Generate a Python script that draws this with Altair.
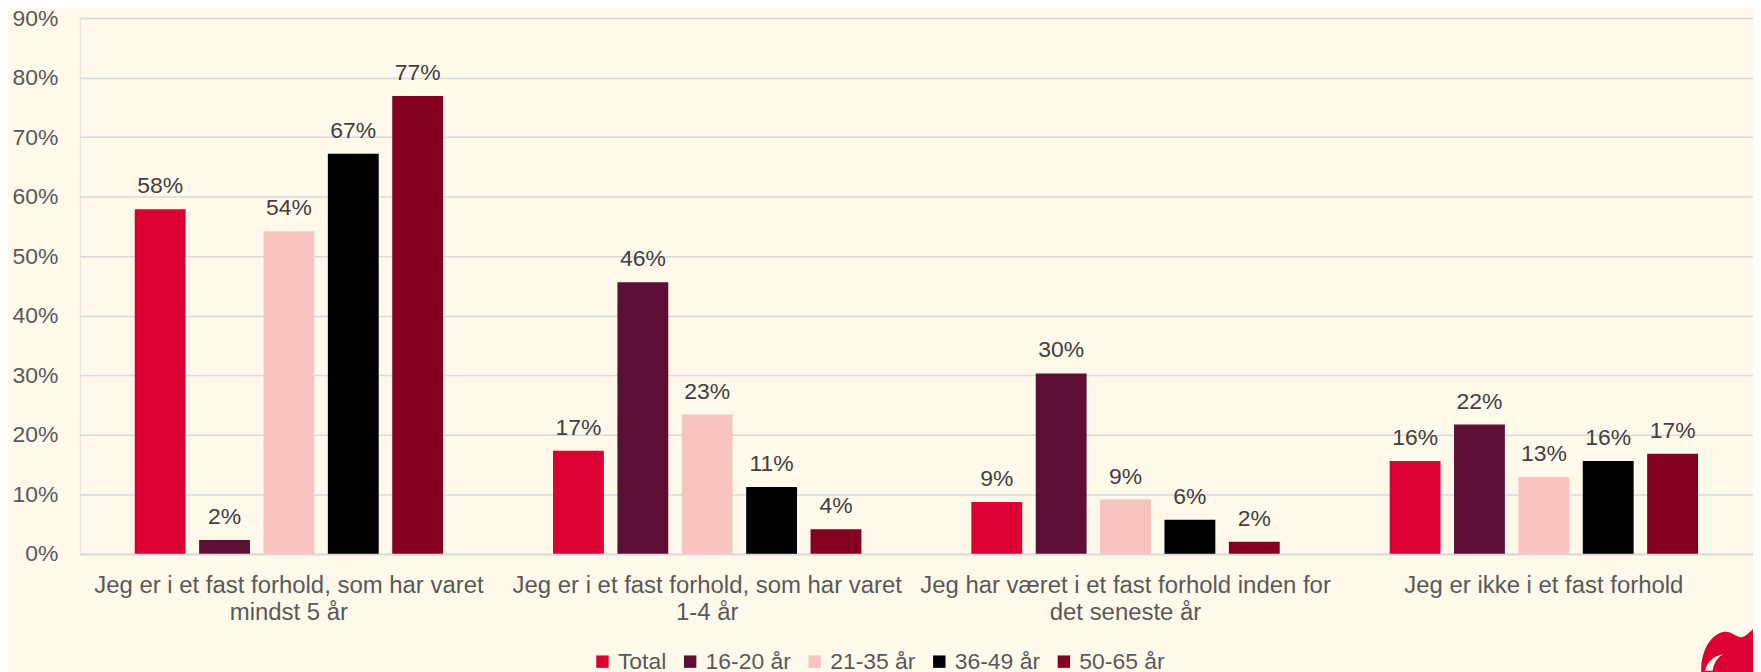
import altair as alt
import pandas as pd

categories = [
    "Jeg er i et fast forhold, som har varet\nmindst 5 år",
    "Jeg er i et fast forhold, som har varet\n1-4 år",
    "Jeg har været i et fast forhold inden for\ndet seneste år",
    "Jeg er ikke i et fast forhold",
]
groups = ["Total", "16-20 år", "21-35 år", "36-49 år", "50-65 år"]
colors = ["#DC0032", "#5C0F35", "#F7C4C0", "#000000", "#85001F"]

total = [57.9, 17.3, 8.7, 15.6]
age_16_20 = [2.3, 45.6, 30.3, 21.7]
age_21_35 = [54.2, 23.4, 9.1, 12.9]
age_36_49 = [67.2, 11.2, 5.7, 15.6]
age_50_65 = [76.9, 4.1, 2.0, 16.8]

series = [total, age_16_20, age_21_35, age_36_49, age_50_65]
rows = []
for g, vals in zip(groups, series):
    for c, v in zip(categories, vals):
        rows.append({"cat": c, "grp": g, "val": v})
df = pd.DataFrame(rows)

FONT = "Liberation Sans"
BG = "#FFF9EC"

base = alt.Chart(df).transform_calculate(
    lbl="format(datum.val, '.0f') + '%'"
).encode(
    x=alt.X(
        "cat:N", sort=categories,
        scale=alt.Scale(paddingInner=0, paddingOuter=0),
        axis=alt.Axis(
            title=None, labelAngle=0, labelExpr="split(datum.label, '\\n')",
            labelFontSize=24, labelColor="#595959", labelPadding=20,
            labelLineHeight=27, ticks=False, domain=True,
            domainColor="#D9D9D9", domainWidth=1.5, grid=False,
            labelLimit=0, labelBaseline="top", labelFont=FONT,
        ),
    ),
    xOffset=alt.XOffset(
        "grp:N", sort=groups,
        scale=alt.Scale(paddingInner=0.21, paddingOuter=0.854),
    ),
    y=alt.Y(
        "val:Q",
        scale=alt.Scale(domain=[0, 90], nice=False),
        axis=alt.Axis(
            values=list(range(0, 100, 10)), labelExpr="datum.value + '%'",
            labelFontSize=23, labelColor="#595959", labelPadding=22,
            ticks=False, domain=False, gridColor="#D9D9D9", gridWidth=1.5,
            title=None, labelFont=FONT,
        ),
    ),
)

bars = base.mark_bar().encode(
    color=alt.Color(
        "grp:N", sort=groups,
        scale=alt.Scale(domain=groups, range=colors),
        legend=alt.Legend(
            orient="none", legendX=513, legendY=634, direction="horizontal",
            title=None, symbolType="square", symbolSize=155,
            labelFontSize=23, labelColor="#595959", columnPadding=12,
            labelOffset=4, symbolStrokeWidth=0, padding=0, labelFont=FONT,
        ),
    )
)

labels = base.mark_text(
    dy=-16, baseline="alphabetic", fontSize=23, color="#404040", font=FONT
).encode(text="lbl:N")

logo_outer = "M -0.933 0.733 C -0.95 0.2 -0.7 -0.45 -0.2 -0.57 C 0.1 -0.62 0.25 -0.35 0.45 -0.4 C 0.6 -0.45 0.75 -0.6 0.87 -0.75 L 1.4 -1.2 L 1.4 1.4 L -0.933 1.4 Z"
logo_notch = "M -0.8 0.733 Q -0.72 0.3 -0.2 0.167 Q -0.5 0.35 -0.55 0.733 Z"

logo_df = pd.DataFrame({"k": [0]})
logo = alt.Chart(logo_df).mark_point(
    shape=logo_outer, filled=True, color="#DC0032", size=3600, opacity=1, strokeWidth=0
).encode(x=alt.value(1655), y=alt.value(633))
notch = alt.Chart(logo_df).mark_point(
    shape=logo_notch, filled=True, color=BG, size=3600, opacity=1, strokeWidth=0
).encode(x=alt.value(1655), y=alt.value(633))

chart = alt.layer(bars, labels, logo, notch).properties(
    width=1679, height=537.5,
    background=BG,
    padding={"left": 72, "top": 9, "right": 0, "bottom": 117.5},
    autosize=alt.AutoSizeParams(type="none"),
).configure_view(stroke=None).configure(font=FONT)

chart.save("out.html", embed_options={"renderer": "svg", "actions": False})
